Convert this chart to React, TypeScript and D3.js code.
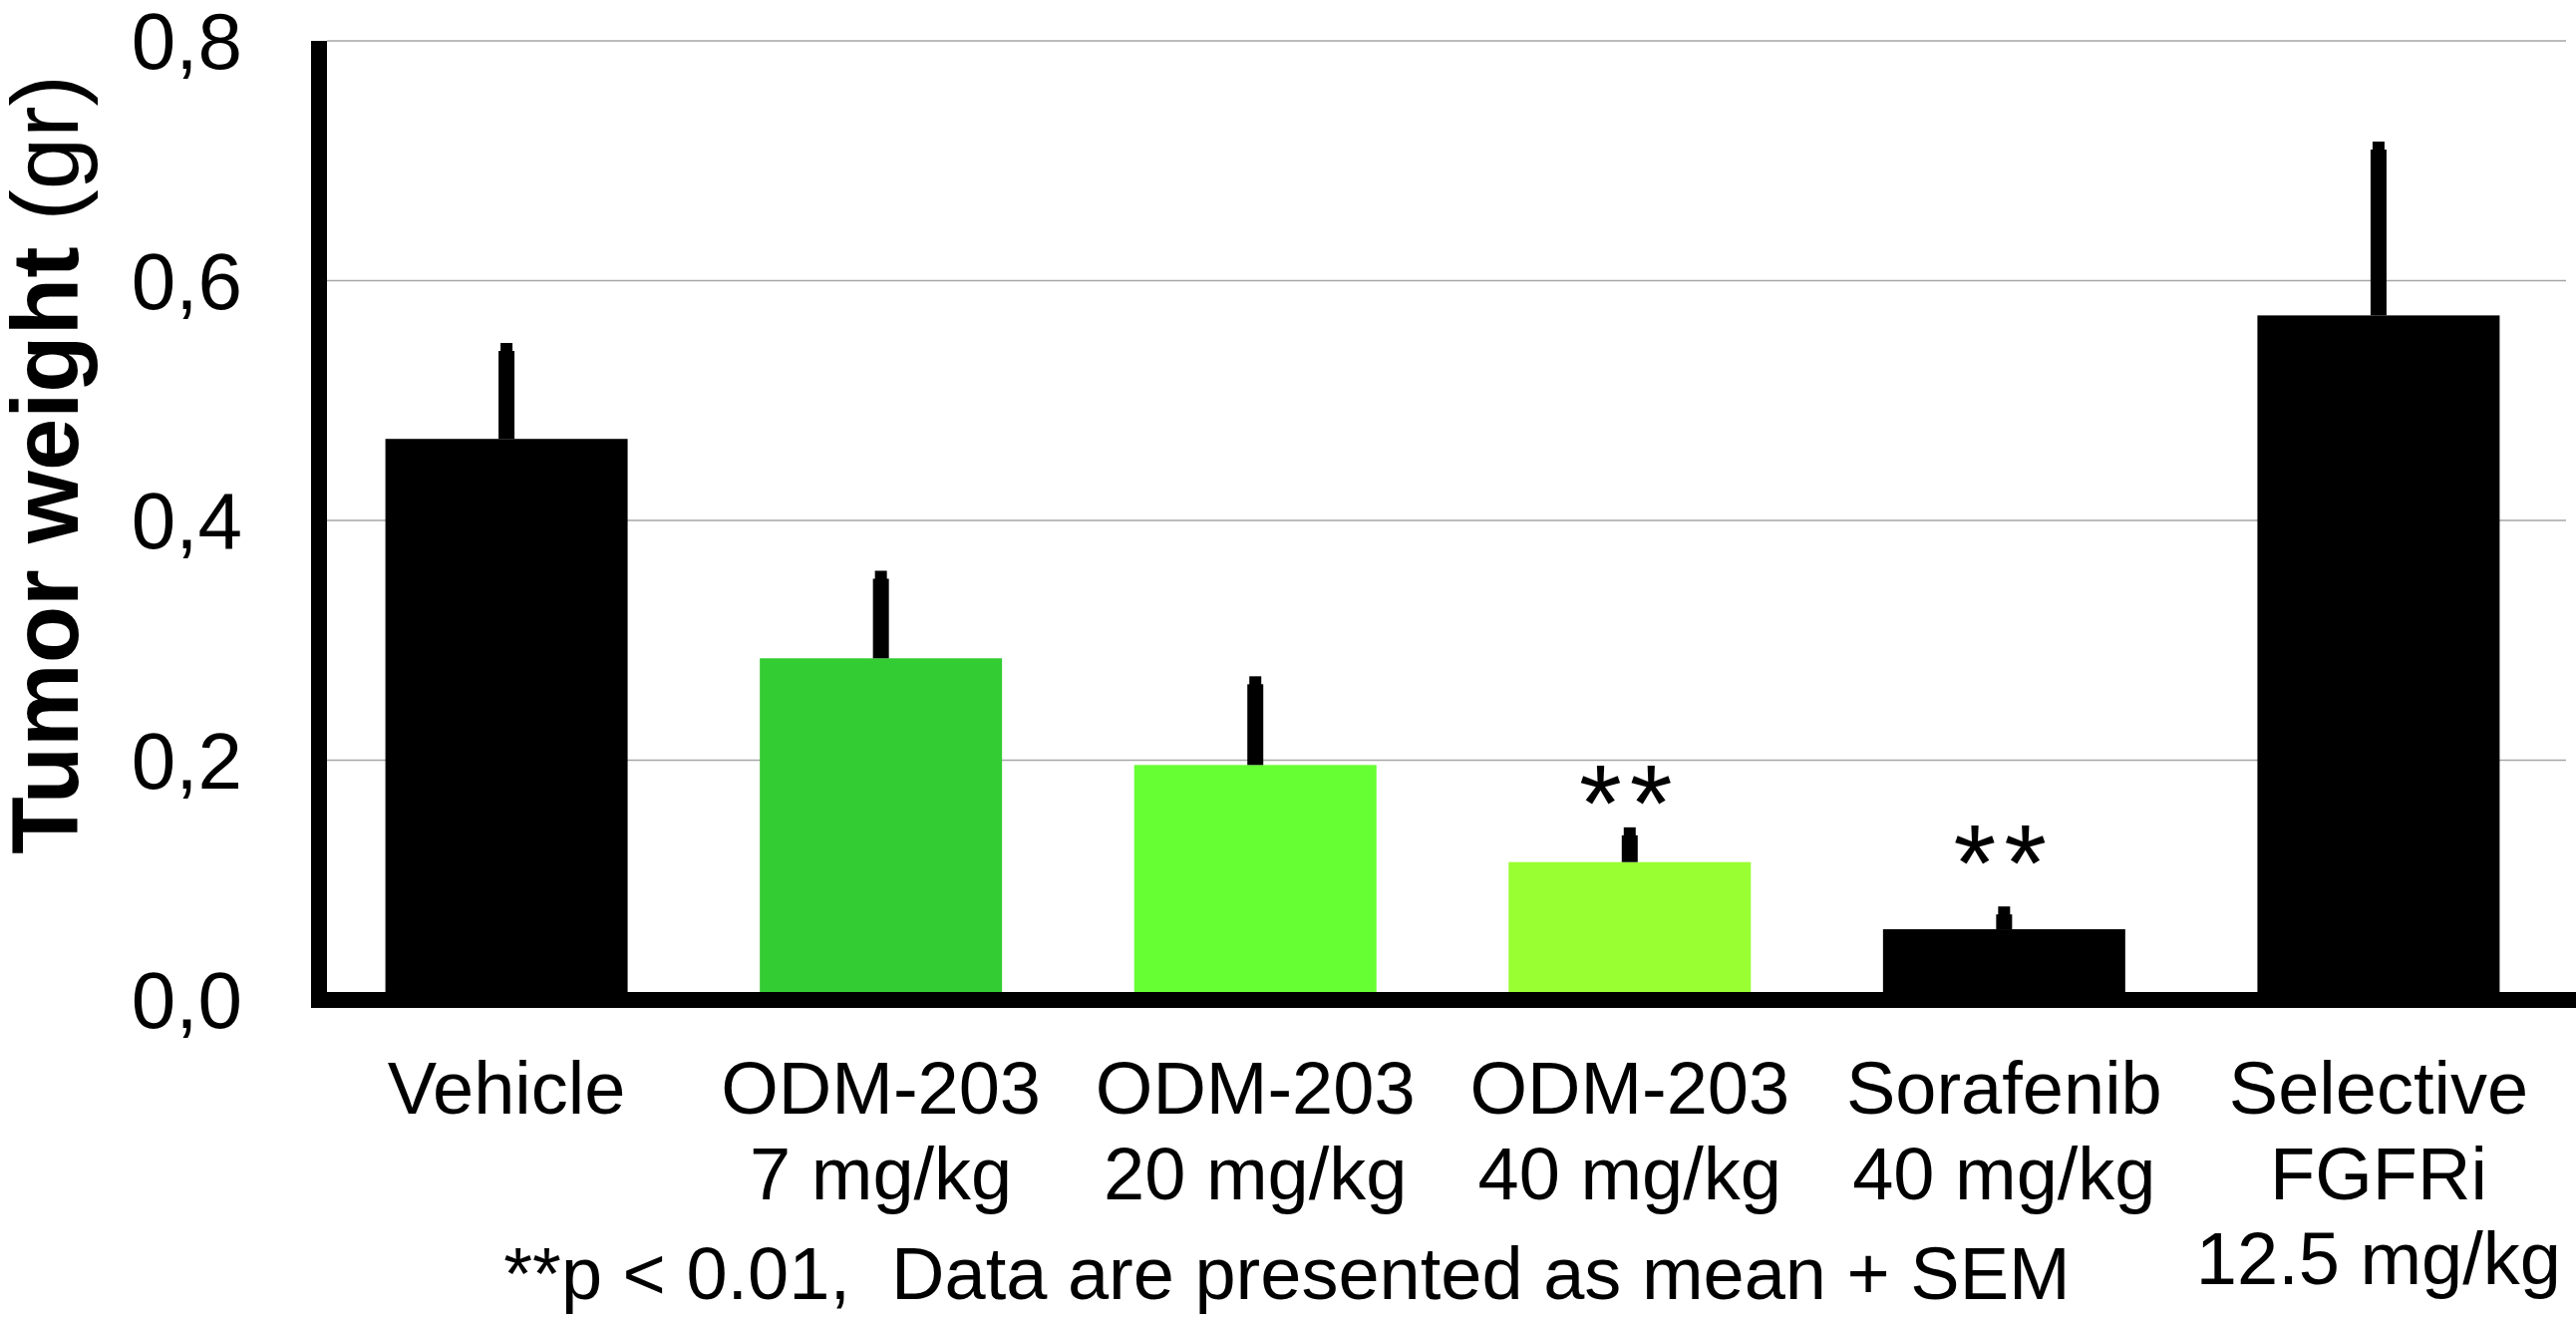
import React, { useRef, useEffect } from 'react';
import * as d3 from 'd3';

// Chart data
const groups = ['Vehicle', 'ODM-203 7', 'ODM-203 20', 'ODM-203 40', 'Sorafenib 40', 'Selective FGFRi'];
const labelLines = [
  ['Vehicle'],
  ['ODM-203', '7 mg/kg'],
  ['ODM-203', '20 mg/kg'],
  ['ODM-203', '40 mg/kg'],
  ['Sorafenib', '40 mg/kg'],
  ['Selective', 'FGFRi', '12.5 mg/kg'],
];
const means = [0.468, 0.285, 0.196, 0.115, 0.059, 0.571];
const sems = [0.080, 0.073, 0.074, 0.029, 0.019, 0.145];
const barColors = ['#000000', '#33cc33', '#66ff33', '#99ff33', '#000000', '#000000'];
// significance marks: anchor (data units) for the "**" text baseline
const sigMarks = ['', '', '', '**', '**', ''];
const sigAnchor = [0, 0, 0, 0.133, 0.083, 0];
const yTicks = [0, 0.2, 0.4, 0.6, 0.8];
const footnote = '**p < 0.01,  Data are presented as mean + SEM';

const W = 2584;
const H = 1325;
const FONT = '"Liberation Sans", Arial, Helvetica, sans-serif';

const App = () => {
  const ref = useRef(null);

  useEffect(() => {
    const svg = d3.select(ref.current);
    svg.selectAll('*').remove();

    const y = d3.scaleLinear().domain([0, 0.8]).range([1003, 41]);
    const x = d3.scaleBand()
      .domain(groups)
      .range([328, 2566])
      .paddingInner(0.353)
      .paddingOuter(0.156);

    // Grid lines
    svg.append('g')
      .selectAll('line')
      .data(yTicks.filter(t => t > 0))
      .enter()
      .append('line')
      .attr('x1', 328)
      .attr('x2', 2574)
      .attr('y1', d => y(d))
      .attr('y2', d => y(d))
      .attr('stroke', '#a6a6a6')
      .attr('stroke-width', 1.5);

    // Bars
    svg.append('g')
      .selectAll('rect')
      .data(groups)
      .enter()
      .append('rect')
      .attr('x', d => x(d))
      .attr('width', x.bandwidth())
      .attr('y', (d, i) => y(means[i]))
      .attr('height', (d, i) => y(0) - y(means[i]))
      .attr('fill', (d, i) => barColors[i]);

    // Error bars (mean + SEM, upper only)
    const errG = svg.append('g');
    groups.forEach((g, i) => {
      const cx = x(g) + x.bandwidth() / 2;
      const top = y(means[i] + sems[i]);
      errG.append('rect')
        .attr('x', cx - 8)
        .attr('width', 16)
        .attr('y', top + 8)
        .attr('height', y(means[i]) - top - 8)
        .attr('fill', '#000');
      errG.append('rect')
        .attr('x', cx - 6)
        .attr('width', 12)
        .attr('y', top)
        .attr('height', 9)
        .attr('fill', '#000');
    });

    // Significance stars
    svg.append('g')
      .selectAll('text')
      .data(groups)
      .enter()
      .filter((d, i) => sigMarks[i] !== '')
      .append('text')
      .attr('x', d => x(d) + x.bandwidth() / 2)
      .attr('y', d => y(sigAnchor[groups.indexOf(d)]))
      .attr('text-anchor', 'middle')
      .attr('font-family', FONT)
      .attr('font-size', 110)
      .attr('letter-spacing', 8)
      .attr('fill', '#000')
      .text(d => sigMarks[groups.indexOf(d)]);

    // Axes lines
    svg.append('rect')
      .attr('x', 312)
      .attr('y', y(0.8))
      .attr('width', 16)
      .attr('height', y(0) - y(0.8) + 8)
      .attr('fill', '#000');
    svg.append('rect')
      .attr('x', 320)
      .attr('y', y(0) - 8)
      .attr('width', W - 320)
      .attr('height', 16)
      .attr('fill', '#000');

    // Y tick labels
    svg.append('g')
      .selectAll('text')
      .data(yTicks)
      .enter()
      .append('text')
      .attr('x', 243)
      .attr('y', d => y(d) + 28)
      .attr('text-anchor', 'end')
      .attr('font-family', FONT)
      .attr('font-size', 80)
      .attr('fill', '#000')
      .text(d => d3.format('.1f')(d).replace('.', ','));

    // Y axis title
    const title = svg.append('text')
      .attr('transform', 'translate(78,466) rotate(-90)')
      .attr('text-anchor', 'middle')
      .attr('font-family', FONT)
      .attr('font-size', 94)
      .attr('fill', '#000');
    title.append('tspan').attr('font-weight', 'bold').text('Tumor weight ');
    title.append('tspan').text('(gr)');

    // X category labels
    const lineY = [1117, 1203, 1288];
    groups.forEach((g, i) => {
      const cx = x(g) + x.bandwidth() / 2;
      labelLines[i].forEach((line, j) => {
        svg.append('text')
          .attr('x', cx)
          .attr('y', lineY[j])
          .attr('text-anchor', 'middle')
          .attr('font-family', FONT)
          .attr('font-size', 74)
          .attr('fill', '#000')
          .text(line);
      });
    });

    // Footnote
    svg.append('text')
      .attr('x', 1291)
      .attr('y', 1303)
      .attr('text-anchor', 'middle')
      .attr('font-family', FONT)
      .attr('font-size', 74)
      .attr('fill', '#000')
      .style('white-space', 'pre')
      .text(footnote);
  }, []);

  return (
    <svg
      ref={ref}
      width={W}
      height={H}
      viewBox={`0 0 ${W} ${H}`}
      style={{ position: 'absolute', left: 0, top: 0, background: '#fff' }}
    />
  );
};

export default App;
